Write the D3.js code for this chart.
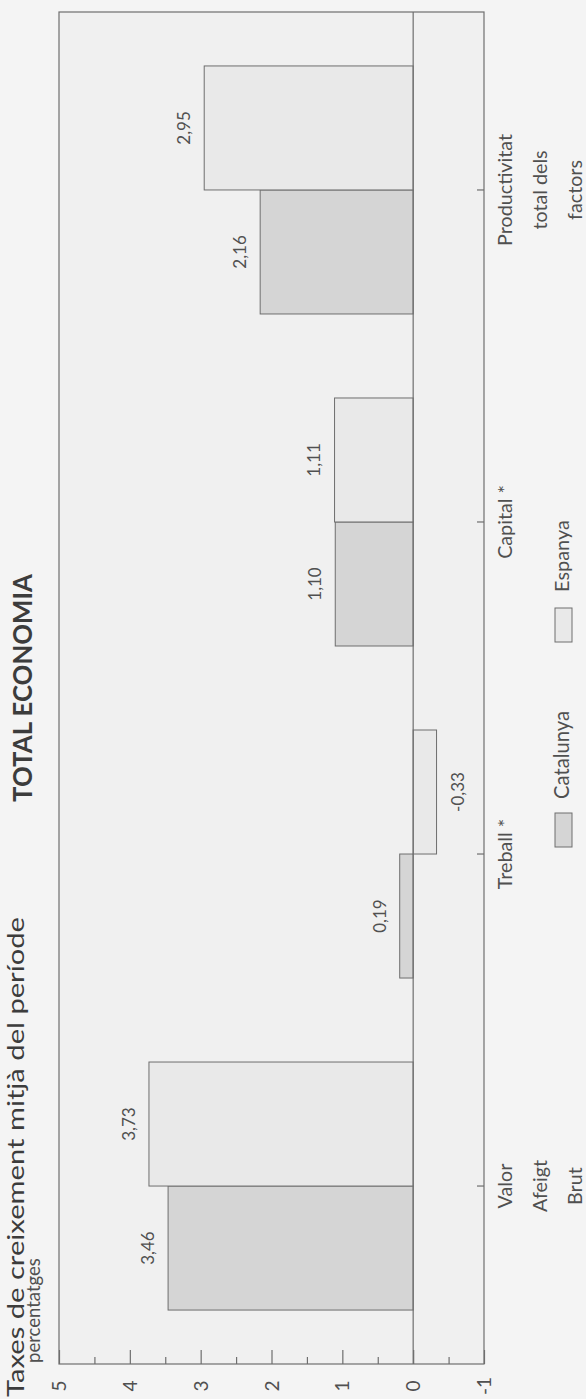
<!DOCTYPE html>
<html>
<head>
<meta charset="utf-8">
<script src="https://cdn.jsdelivr.net/npm/d3@7"></script>
<style>
  html, body { margin: 0; padding: 0; background: #f4f4f4; }
  svg { display: block; font-family: Lato, "Open Sans", sans-serif; }
</style>
</head>
<body>
<div id="chart"></div>
<script>
// data
const categories = ["Valor Afeigt Brut", "Treball *", "Capital *", "Productivitat total dels factors"];
const categoryLines = [["Valor", "Afeigt", "Brut"], ["Treball *"], ["Capital *"], ["Productivitat", "total dels", "factors"]];
const seriesNames = ["Catalunya", "Espanya"];
const catalunyaValues = [3.46, 0.19, 1.10, 2.16];
const espanyaValues = [3.73, -0.33, 1.11, 2.95];
const valueTicks = [-1, 0, 1, 2, 3, 4, 5];
const valueTickLabels = ["-1", "0", "1", "2", "3", "4", "5"];

const W = 586, H = 1399;
const frame = {left: 59, right: 484, top: 12, bottom: 1364};
const colors = {Catalunya: "#d5d5d5", Espanya: "#e9e9e9"};
const ink = "#505050", lineCol = "#6e6e6e";

// scale a text's font so that it spans the given length
function fitLength(sel, target) {
  const len = sel.node().getComputedTextLength();
  const fs = +sel.attr("font-size");
  sel.attr("font-size", fs * target / len);
}

const svg = d3.select("#chart").append("svg")
  .attr("width", W)
  .attr("height", H);

// value axis runs horizontally on the page (chart is turned a quarter)
const x = d3.scaleLinear().domain([-1, 5]).range([frame.right, frame.left]);

// categories stacked top to bottom on the page
const y = d3.scaleBand()
  .domain(categories.slice().reverse())
  .range([frame.top, frame.bottom])
  .paddingInner(0.253)
  .paddingOuter(0.1625);

const ySub = d3.scaleBand()
  .domain(["Espanya", "Catalunya"])
  .range([0, y.bandwidth()]);

// frame
svg.append("rect")
  .attr("x", frame.left).attr("y", frame.top)
  .attr("width", frame.right - frame.left)
  .attr("height", frame.bottom - frame.top)
  .attr("fill", "#f0f0f0")
  .attr("stroke", lineCol).attr("stroke-width", 1.2);

// rows of bar data
const rows = [];
categories.forEach((c, i) => {
  rows.push({cat: c, series: "Catalunya", value: catalunyaValues[i]});
  rows.push({cat: c, series: "Espanya", value: espanyaValues[i]});
});

svg.append("g").selectAll("rect")
  .data(rows)
  .enter().append("rect")
    .attr("x", d => Math.min(x(d.value), x(0)))
    .attr("y", d => y(d.cat) + ySub(d.series))
    .attr("width", d => Math.abs(x(d.value) - x(0)))
    .attr("height", ySub.bandwidth())
    .attr("fill", d => colors[d.series])
    .attr("stroke", lineCol).attr("stroke-width", 1);

// zero line
svg.append("line")
  .attr("x1", x(0)).attr("x2", x(0))
  .attr("y1", frame.top).attr("y2", frame.bottom)
  .attr("stroke", lineCol).attr("stroke-width", 1.2);

// value labels
svg.append("g").selectAll("text")
  .data(rows)
  .enter().append("text")
    .attr("transform", d => {
      const cx = d.value >= 0 ? x(d.value) - 20 : x(d.value) + 22;
      const cy = y(d.cat) + ySub(d.series) + ySub.bandwidth() / 2;
      return `translate(${cx},${cy}) rotate(-90)`;
    })
    .attr("dy", "0.35em")
    .attr("text-anchor", "middle")
    .attr("font-size", 17)
    .attr("fill", ink)
    .text(d => d.value.toFixed(2).replace(".", ","));

// value axis: major + minor ticks pointing into the frame
const xAxis = svg.append("g")
  .attr("transform", `translate(0,${frame.bottom})`)
  .call(d3.axisBottom(x)
    .tickValues(valueTicks)
    .tickFormat((d, i) => valueTickLabels[i])
    .tickSizeInner(-14).tickSizeOuter(0));
xAxis.select(".domain").remove();
xAxis.selectAll("line").attr("stroke", lineCol).attr("stroke-width", 1.2);
xAxis.selectAll("text")
  .attr("x", 0).attr("y", 0).attr("dy", "0.35em")
  .attr("transform", "translate(0,22) rotate(-90)")
  .attr("text-anchor", "middle")
  .attr("font-size", 19)
  .attr("font-family", "Lato, sans-serif")
  .attr("fill", ink);

const xMinor = svg.append("g")
  .attr("transform", `translate(0,${frame.bottom})`)
  .call(d3.axisBottom(x)
    .tickValues(d3.range(-0.5, 5, 1))
    .tickFormat("")
    .tickSizeInner(-7).tickSizeOuter(0));
xMinor.select(".domain").remove();
xMinor.selectAll("line").attr("stroke", lineCol).attr("stroke-width", 1.2);

// category axis on the right edge of the frame
const yAxis = svg.append("g")
  .attr("transform", `translate(${frame.right},0)`)
  .call(d3.axisRight(y).tickFormat("").tickSizeInner(-7).tickSizeOuter(0));
yAxis.select(".domain").remove();
yAxis.selectAll("line").attr("stroke", lineCol).attr("stroke-width", 1.2);

const catLabels = svg.append("g").selectAll("text")
  .data(categories)
  .enter().append("text")
    .attr("transform", d => `translate(512,${y(d) + y.bandwidth() / 2}) rotate(-90)`)
    .attr("text-anchor", "middle")
    .attr("font-size", 17)
    .attr("fill", ink);
catLabels.selectAll("tspan")
  .data((d, i) => categoryLines[i])
  .enter().append("tspan")
    .attr("x", 0)
    .attr("dy", (d, i) => i === 0 ? 0 : 35)
    .text(d => d);

// size the category labels from "Productivitat" (about 112px long in the picture)
{
  const probe = catLabels.filter((d, i) => i === 3).select("tspan");
  const len = probe.node().getComputedTextLength();
  catLabels.attr("font-size", 17 * 112 / len);
}

// legend
const legendPos = [{y: 830, ty: 755, len: 88}, {y: 625, ty: 556, len: 72}];
seriesNames.forEach((s, i) => {
  svg.append("rect")
    .attr("x", 555).attr("y", legendPos[i].y - 17)
    .attr("width", 17).attr("height", 34)
    .attr("fill", colors[s])
    .attr("stroke", lineCol).attr("stroke-width", 1);
  const t = svg.append("text")
    .attr("transform", `translate(569,${legendPos[i].ty}) rotate(-90)`)
    .attr("text-anchor", "middle")
    .attr("font-size", 17)
    .attr("fill", ink)
    .text(s);
  fitLength(t, legendPos[i].len);
});

// titles
svg.append("text")
  .attr("transform", "translate(24,1397) rotate(-90)")
  .attr("font-size", 23)
  .attr("textLength", 480)
  .attr("lengthAdjust", "spacingAndGlyphs")
  .attr("fill", "#3c3c3c")
  .text("Taxes de creixement mitjà del període");

const sub = svg.append("text")
  .attr("transform", "translate(40,1363) rotate(-90)")
  .attr("font-size", 17)
  .attr("fill", ink)
  .text("percentatges");
fitLength(sub, 105);

const head = svg.append("text")
  .attr("transform", `translate(32,${(frame.top + frame.bottom) / 2}) rotate(-90)`)
  .attr("text-anchor", "middle")
  .attr("font-size", 22)
  .attr("font-weight", "bold")
  .attr("fill", "#3c3c3c")
  .text("TOTAL ECONOMIA");
fitLength(head, 228);
</script>
</body>
</html>
